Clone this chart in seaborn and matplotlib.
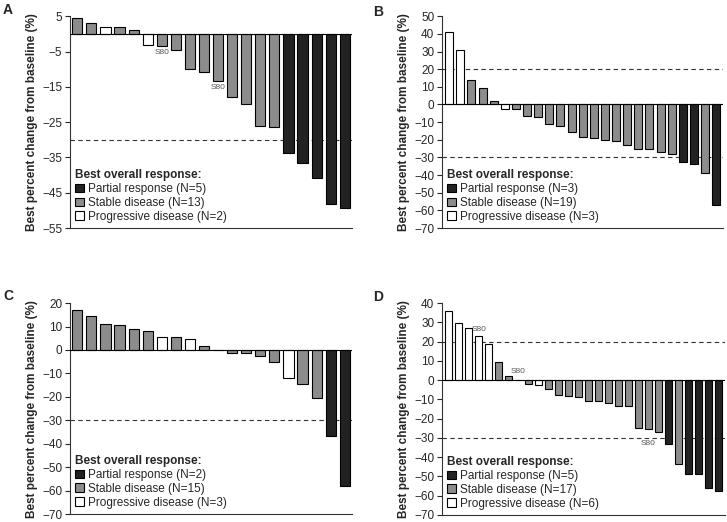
import matplotlib
matplotlib.use("Agg")
import matplotlib.pyplot as plt
import numpy as np
import seaborn as sns
from matplotlib.patches import Patch

# response codes: PR = partial response, SD = stable disease, PD = progressive disease
A_VALUES = [4.5, 3.2, 1.8, 1.8, 1.2, -3.2, -3.4, -4.6, -9.9, -10.8,
            -13.4, -18.0, -20.0, -26.1, -26.3, -33.8, -36.6, -40.9, -48.2, -49.3]
A_RESP = ["SD", "SD", "PD", "SD", "SD", "PD", "SD", "SD", "SD", "SD",
          "SD", "SD", "SD", "SD", "SD", "PR", "PR", "PR", "PR", "PR"]
A_S80 = [(6, -5.3), (10, -15.2)]

B_VALUES = [41.0, 30.7, 14.1, 9.6, 1.7, -2.6, -2.8, -6.8, -7.2, -11.3,
            -11.9, -15.4, -18.5, -19.2, -20.1, -20.9, -23.2, -25.0, -25.2, -26.7,
            -28.2, -32.8, -33.7, -39.0, -56.9]
B_RESP = ["PD", "PD", "SD", "SD", "SD", "PD", "SD", "SD", "SD", "SD",
          "SD", "SD", "SD", "SD", "SD", "SD", "SD", "SD", "SD", "SD",
          "SD", "PR", "PR", "SD", "PR"]
B_S80 = []

C_VALUES = [16.9, 14.4, 11.2, 10.5, 9.1, 8.0, 5.4, 5.4, 4.8, 1.8,
            0.0, -1.1, -1.4, -2.7, -5.3, -11.8, -14.5, -20.3, -36.8, -57.9]
C_RESP = ["SD", "SD", "SD", "SD", "SD", "SD", "PD", "SD", "PD", "SD",
          "SD", "SD", "SD", "SD", "SD", "PD", "SD", "SD", "PR", "PR"]
C_S80 = []

D_VALUES = [35.7, 29.6, 26.9, 23.0, 18.7, 9.2, 2.3, 0.0, -1.9, -2.4,
            -4.5, -7.5, -8.5, -8.7, -10.7, -10.9, -12.1, -13.2, -13.5, -24.8,
            -25.5, -26.9, -33.4, -43.5, -48.9, -48.9, -56.2, -57.4]
D_RESP = ["PD", "PD", "PD", "PD", "PD", "SD", "SD", "SD", "SD", "PD",
          "SD", "SD", "SD", "SD", "SD", "SD", "SD", "SD", "SD", "SD",
          "SD", "SD", "PR", "SD", "PR", "PR", "PR", "PR"]
D_S80 = [(3, 26.2), (7, 4.5), (20, -32.8)]

RESP_ORDER = ["PR", "SD", "PD"]
RESP_NAMES = {"PR": "Partial response", "SD": "Stable disease", "PD": "Progressive disease"}
COLORS = {"PR": "#222222", "SD": "#8c8c8c", "PD": "#ffffff"}

FONT = 8.5

sns.set_style("ticks")
plt.rcParams["font.family"] = ["Liberation Sans", "DejaVu Sans"]
plt.rcParams["axes.unicode_minus"] = True


def waterfall(ax, values, resp, s80, yticks, ref_lines, xpad):
    n = len(values)
    idx = np.arange(n)
    sns.barplot(x=idx, y=values, hue=resp, hue_order=RESP_ORDER, palette=COLORS,
                dodge=False, width=0.72, edgecolor="black", linewidth=0.8,
                legend=False, ax=ax, zorder=3)
    ax.axhline(0, color="black", lw=0.8, zorder=4)
    for r in ref_lines:
        ax.axhline(r, color="#333333", lw=0.8, ls=(0, (4, 3)), zorder=1)
    for i, y in s80:
        ax.text(i, y, "S80", ha="center", va="center", fontsize=6,
                color="#555555", zorder=5)

    ax.set_ylim(yticks[0], yticks[-1])
    ax.set_yticks(yticks)
    ax.set_xlim(-xpad, n - 1 + xpad)
    ax.set_xticks([])
    ax.set_xlabel("")
    ax.set_ylabel("Best percent change from baseline (%)", fontsize=FONT,
                  fontweight="bold", labelpad=3)
    ax.tick_params(axis="y", labelsize=FONT, length=3.5, width=0.8, pad=2)
    for side in ["top", "right"]:
        ax.spines[side].set_visible(False)
    for side in ["left", "bottom"]:
        ax.spines[side].set_linewidth(0.8)
        ax.spines[side].set_color("#333333")

    handles = [Patch(facecolor=COLORS[k], edgecolor="black", linewidth=0.8,
                     label=f"{RESP_NAMES[k]} (N={resp.count(k)})") for k in RESP_ORDER]
    ax.legend(handles=handles, loc="lower left", frameon=False,
              title="Best overall response:", fontsize=FONT,
              title_fontproperties={"weight": "bold", "size": FONT},
              handlelength=0.75, handleheight=0.75, handletextpad=0.35,
              labelspacing=0.15, borderaxespad=0.3, borderpad=0.15,
              alignment="left")


fig = plt.figure(figsize=(7.27, 5.22), dpi=100)
axA = fig.add_axes([0.0963, 0.563, 0.388, 0.406])
axB = fig.add_axes([0.608, 0.563, 0.387, 0.406])
axC = fig.add_axes([0.0963, 0.0153, 0.388, 0.404])
axD = fig.add_axes([0.608, 0.0135, 0.389, 0.406])

waterfall(axA, A_VALUES, A_RESP, A_S80, list(range(-55, 6, 10)), [-30], 0.52)
waterfall(axB, B_VALUES, B_RESP, B_S80, list(range(-70, 51, 10)), [20, -30], 0.65)
waterfall(axC, C_VALUES, C_RESP, C_S80, list(range(-70, 21, 10)), [-30], 0.52)
waterfall(axD, D_VALUES, D_RESP, D_S80, list(range(-70, 41, 10)), [20, -30], 0.67)

for letter, x, y in [("A", 0.004, 0.995), ("B", 0.513, 0.99),
                     ("C", 0.004, 0.447), ("D", 0.513, 0.445)]:
    fig.text(x, y, letter, fontsize=10, fontweight="bold", ha="left", va="top")

fig.savefig("out.png", dpi=100)
